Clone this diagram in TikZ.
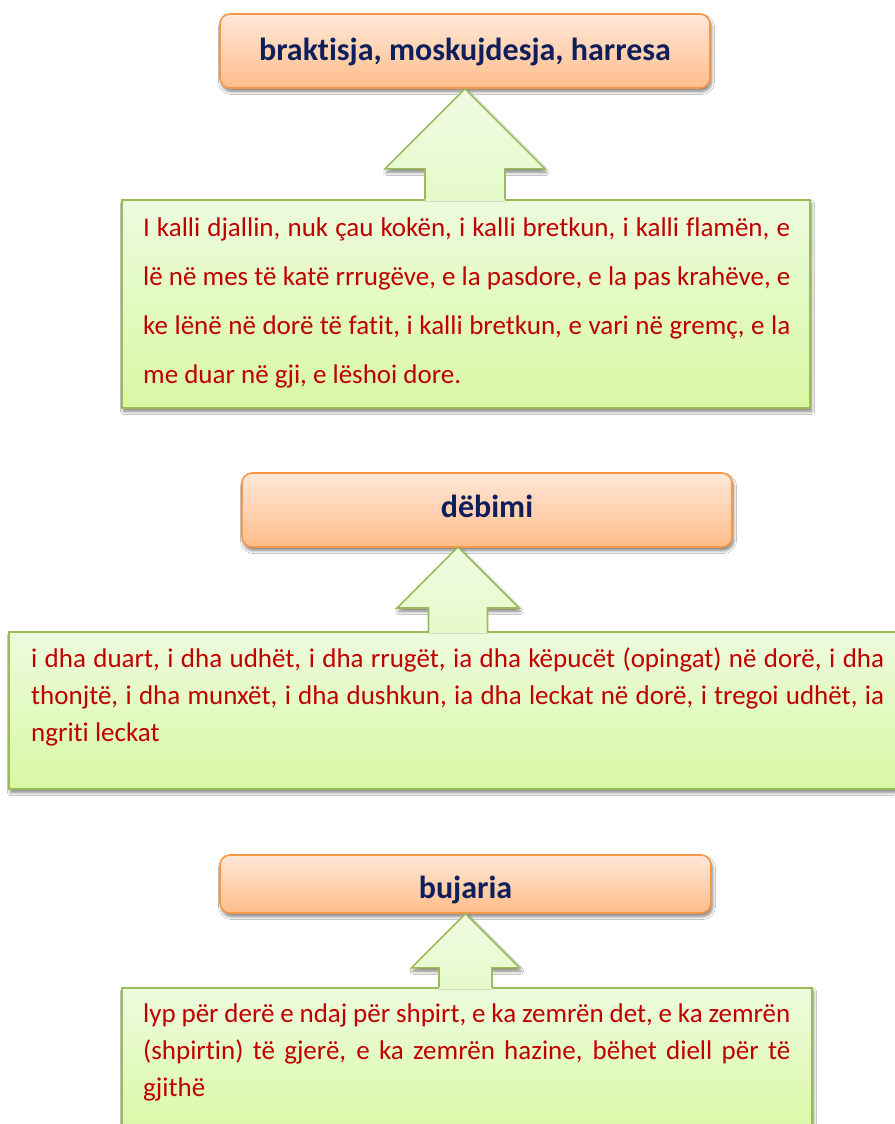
\documentclass[tikz,border=0pt]{standalone}
\usepackage{fontspec}
\setmainfont[Ligatures=NoCommon]{Carlito}
\usetikzlibrary{calc,shadows.blur}

\definecolor{peachtop}{HTML}{FFE7D8}
\definecolor{peachbot}{HTML}{FFBD8A}
\definecolor{peachline}{HTML}{F79646}
\definecolor{leaftop}{HTML}{EDFBDE}
\definecolor{leafbot}{HTML}{D8F8A4}
\definecolor{leafline}{HTML}{9BBB59}
\definecolor{bodyred}{HTML}{C00000}
\definecolor{navy}{HTML}{0E1F5B}

\tikzset{
  softshadow/.style={blur shadow={shadow xshift=1.5pt, shadow yshift=-3.5pt,
      shadow blur radius=3pt, shadow blur steps=8, shadow opacity=50}},
  headbox/.style={draw=peachline, line width=1.6pt, rounded corners=10pt,
      top color=peachtop, bottom color=peachbot, softshadow, inner sep=0pt},
  listbox/.style={draw=leafline, line width=1.6pt,
      top color=leaftop, bottom color=leafbot, softshadow, inner sep=0pt},
  headtext/.style={anchor=base, inner sep=0pt, text=navy,
      font=\fontsize{32}{36}\selectfont\bfseries},
  bodytext/.style={anchor=base west, inner sep=0pt, text=bodyred},
  arrowfill/.style={top color=leaftop!85!white, bottom color=leaftop!65!leafbot},
  arrowline/.style={draw=leafline, line width=1.6pt, line join=miter},
}

% block arrow pointing up: tip, point on the box top below the tip,
% half-width of the head, half-width of the shaft
\newcommand\blockarrow[4]{%
  \path[softshadow] (#1) -- ++(#3,#3) -- ++({-2*#3},0) -- cycle;
  \fill[arrowfill] (#1) -- ++(#3,#3) -- ++({#4-#3},0) -- ($(#2)+(#4,2)$)
     -- ($(#2)+(-#4,2)$) -- ($(#1)+(-#4,#3)$) -- ++({#4-#3},0) -- cycle;
  \draw[arrowline] ($(#2)+(-#4,0)$) -- ($(#1)+(-#4,#3)$) -- ++({#4-#3},0)
     -- (#1) -- ++(#3,#3) -- ++({#4-#3},0) -- ($(#2)+(#4,0)$);
}

\begin{document}
\begin{tikzpicture}[x=1pt, y=-1pt]
  \fill[white] (0,0) rectangle (894,1124);
  \useasboundingbox (0,0) rectangle (894,1124);

  % list boxes
  \node[listbox, minimum width=688pt, minimum height=208pt] (g1) at (466,304) {};
  \node[listbox, minimum width=896pt, minimum height=157pt] (g2) at (457,710.5) {};
  \node[listbox, minimum width=690pt, minimum height=150pt] (g3) at (467,1063) {};

  % heading boxes
  \node[headbox, minimum width=490pt, minimum height=74pt] (t1) at (465,51) {};
  \node[headbox, minimum width=490pt, minimum height=74pt] (t2) at (487,510) {};
  \node[headbox, minimum width=491pt, minimum height=58pt] (t3) at (465.5,884) {};

  % arrows from each list up to its heading
  \coordinate (a1tip) at (t1.south);
  \coordinate (a1base) at (a1tip |- g1.north);
  \coordinate (a2tip) at (458,547);
  \coordinate (a2base) at (a2tip |- g2.north);
  \coordinate (a3tip) at (t3.south);
  \coordinate (a3base) at (a3tip |- g3.north);
  \blockarrow{a1tip}{a1base}{80}{40}
  \blockarrow{a2tip}{a2base}{61}{29.5}
  \blockarrow{a3tip}{a3base}{54}{26.5}

  % headings
  \node[headtext] (t1l) at (465,60) {braktisja, moskujdesja, harresa};
  \node[headtext] (t2l) at (487,517) {dëbimi};
  \node[headtext] (t3l) at (465.5,898) {bujaria};

  % list texts
  \node[bodytext] (g1l) at (143,236) {\parbox[t]{647pt}{\fontsize{27}{49}\selectfont
    \makebox[\linewidth][s]{I kalli djallin, nuk çau kokën, i kalli bretkun, i kalli flamën, e}\\
    \makebox[\linewidth][s]{lë në mes të katë rrrugëve, e la pasdore, e la pas krahëve, e}\\
    \makebox[\linewidth][s]{ke lënë në dorë të fatit, i kalli bretkun, e vari në gremç, e la}\\
    me duar në gji, e lëshoi dore.}};
  \node[bodytext] (g2l) at (31,667.5) {\parbox[t]{853pt}{\fontsize{27}{37}\selectfont
    \makebox[\linewidth][s]{i dha duart, i dha udhët, i dha rrugët, ia dha këpucët (opingat) në dorë, i dha}\\
    \makebox[\linewidth][s]{thonjtë, i dha munxët, i dha dushkun, ia dha leckat në dorë, i tregoi udhët, ia}\\
    ngriti leckat}};
  \node[bodytext] (g3l) at (143,1022) {\parbox[t]{647pt}{\fontsize{27}{37}\selectfont
    \makebox[\linewidth][s]{lyp për derë e ndaj për shpirt, e ka zemrën det, e ka zemrën}\\
    \makebox[\linewidth][s]{(shpirtin) të gjerë, e ka zemrën hazine, bëhet diell për të}\\
    gjithë}};
\end{tikzpicture}
\end{document}
